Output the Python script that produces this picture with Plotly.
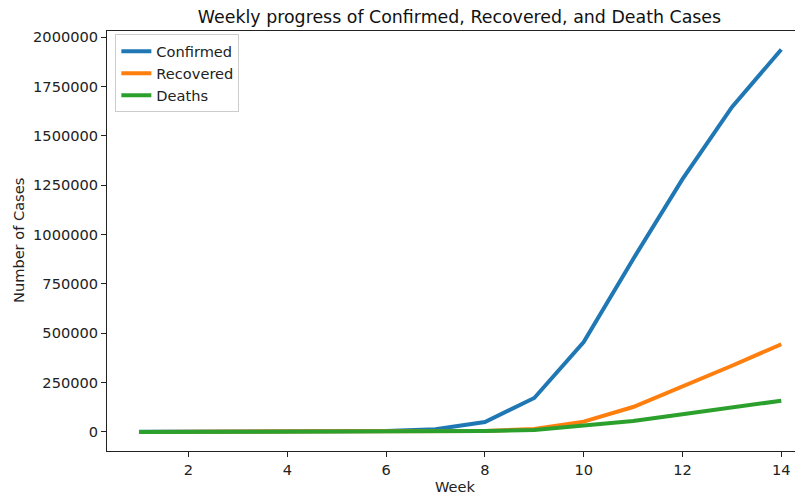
import plotly.graph_objects as go

# Weekly totals.
weeks = list(range(1, 15))
confirmed = [600, 1000, 1500, 2000, 2500, 4000, 13000, 50000, 172000, 455000,
             875000, 1280000, 1645000, 1937000]
recovered = [0, 0, 0, 0, 500, 1000, 2000, 5000, 15000, 52000,
             126000, 229000, 335000, 444000]
deaths = [0, 0, 0, 0, 200, 500, 1500, 4000, 10000, 30000,
          55000, 89000, 125000, 158000]

y_ticks = [0, 250000, 500000, 750000, 1000000, 1250000, 1500000, 1750000, 2000000]
x_ticks = [2, 4, 6, 8, 10, 12, 14]

FONT = "DejaVu Sans"
_BLUE = "#1f77b4"
_ORANGE = "#ff7f0e"
_GREEN = "#2ca02c"
_INK = "#222"

# The page body adds an 8px offset, so the figure is sized to fit the window.
W, H = 795, 489

fig = go.Figure()
fig.add_scatter(x=weeks, y=confirmed, mode="lines", name="Confirmed",
                line=dict(color=_BLUE, width=4))
fig.add_scatter(x=weeks, y=recovered, mode="lines", name="Recovered",
                line=dict(color=_ORANGE, width=4))
fig.add_scatter(x=weeks, y=deaths, mode="lines", name="Deaths",
                line=dict(color=_GREEN, width=4))

axis_common = dict(
    showgrid=False, zeroline=False, automargin=False,
    showline=True, linecolor=_INK, linewidth=1,
    ticks="outside", ticklen=5, tickwidth=1, tickcolor=_INK,
    tickfont=dict(family=FONT, size=14.6, color=_INK),
)

# Axis titles placed as annotations so they sit exactly in the margins.
fig.add_annotation(text="Week", xref="paper", yref="paper", x=0.5, y=0,
                   yshift=-35, showarrow=False, xanchor="center", yanchor="middle",
                   font=dict(family=FONT, size=14.6, color=_INK))
fig.add_annotation(text="Number of Cases", xref="paper", yref="paper",
                   x=0, xshift=-89, y=0.5, textangle=-90, showarrow=False,
                   xanchor="center", yanchor="middle",
                   font=dict(family=FONT, size=14.6, color=_INK))

fig.update_layout(
    width=W, height=H,
    paper_bgcolor="white", plot_bgcolor="white",
    margin=dict(l=99, r=0, t=23, b=46),
    font=dict(family=FONT, size=14.6, color=_INK),
    title=dict(
        text="Weekly progress of Confirmed, Recovered, and Death Cases",
        font=dict(family=FONT, size=17.4, color="#111"),
        x=451.5 / W, xref="container", xanchor="center",
        y=1 - 9 / H, yref="container", yanchor="middle",
    ),
    xaxis=dict(axis_common, range=[0.35, 14.44], tickvals=x_ticks, mirror=True),
    yaxis=dict(axis_common, range=[-96700, 2030700], tickvals=y_ticks,
               tickformat="d"),
    legend=dict(
        x=0.012, y=0.992, xanchor="left", yanchor="top",
        bgcolor="rgba(255,255,255,0.8)", bordercolor="#ccc", borderwidth=1,
        font=dict(family=FONT, size=14.6, color=_INK),
        tracegroupgap=0, itemwidth=30,
    ),
    showlegend=True,
)

fig.write_html("out.html")
